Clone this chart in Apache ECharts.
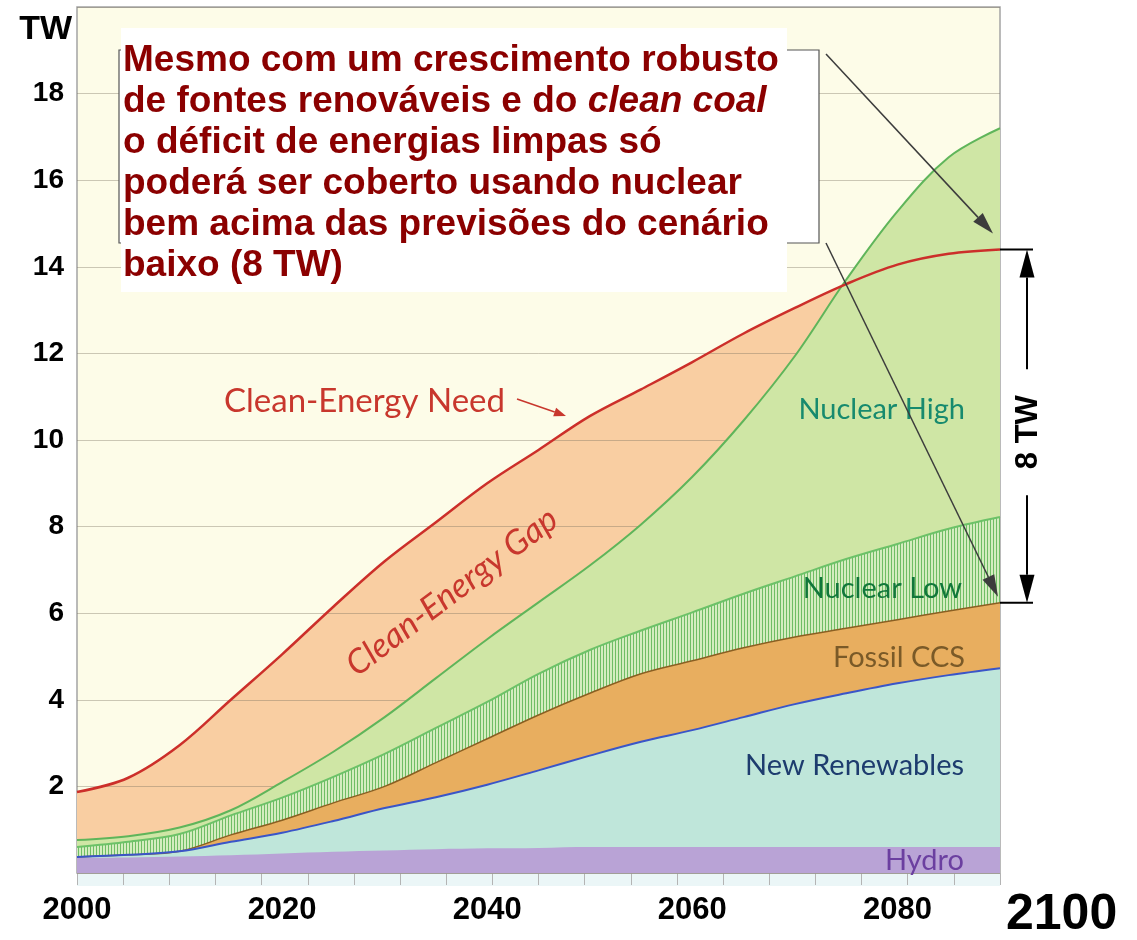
<!DOCTYPE html>
<html>
<head>
<meta charset="utf-8">
<script src="https://cdn.jsdelivr.net/npm/echarts@6/dist/echarts.min.js"></script>
<style>
html, body { margin: 0; padding: 0; background: #fff; }
#container { width: 1137px; height: 940px; }
</style>
</head>
<body>
<div id="container"></div>
<script>
var dom = document.getElementById("container");
var myChart = echarts.init(dom);

// years as labelled on the slide
var years = [2000, 2005, 2010, 2015, 2020, 2025, 2030, 2035, 2040, 2045, 2050, 2055, 2060, 2065, 2070, 2075, 2080, 2085, 2090];
// TW supplied by each source (bottom to top)
var hydro = [0.35, 0.36, 0.38, 0.41, 0.45, 0.49, 0.52, 0.55, 0.57, 0.58, 0.6, 0.6, 0.6, 0.6, 0.6, 0.6, 0.6, 0.6, 0.6];
var newRenewables = [0.02, 0.06, 0.12, 0.31, 0.48, 0.71, 0.98, 1.2, 1.47, 1.79, 2.11, 2.43, 2.7, 3.0, 3.3, 3.55, 3.78, 3.97, 4.13];
var fossilCCS = [0, 0, 0, 0.16, 0.29, 0.42, 0.5, 0.8, 1.06, 1.28, 1.44, 1.57, 1.6, 1.6, 1.55, 1.5, 1.47, 1.48, 1.51];
var nuclearLow = [0.23, 0.3, 0.4, 0.45, 0.52, 0.6, 0.75, 0.8, 0.85, 0.95, 1.0, 1.0, 1.12, 1.25, 1.4, 1.6, 1.75, 1.9, 1.98];
var nuclearHigh = [0.16, 0.13, 0.15, 0.12, 0.36, 0.58, 0.85, 1.15, 1.45, 1.65, 1.95, 2.45, 3.13, 4.0, 5.09, 6.45, 7.68, 8.58, 8.98];
// total clean energy needed
var cleanEnergyNeed = [1.87, 2.2, 2.95, 4.0, 5.05, 6.15, 7.2, 8.1, 9.0, 9.77, 10.55, 11.17, 11.8, 12.46, 13.05, 13.6, 14.05, 14.3, 14.4];

var yearLabels = [2000, 2020, 2040, 2060, 2080];
var tickYears = [2000, 2004.5, 2009, 2013.5, 2018, 2022.5, 2027, 2031.5, 2036, 2040.5, 2045, 2049.5, 2054, 2058.5, 2063, 2067.5, 2072, 2076.5, 2081, 2085.5, 2090];

var boxLines = [
    'Mesmo com um crescimento robusto',
    'de fontes renováveis e do {i|clean coal}',
    'o déficit de energias limpas só',
    'poderá ser coberto usando nuclear',
    'bem acima das previsões do cenário',
    'baixo (8 TW)'
];

// running totals, bottom layer first (value x axes can't be stacked on y by ECharts)
var layers = [hydro, newRenewables, fossilCCS, nuclearLow, nuclearHigh];
var totals = [];
var run = years.map(function () { return 0; });
layers.forEach(function (arr) {
    run = run.map(function (v, i) { return +(v + arr[i]).toFixed(3); });
    totals.push(run);
});

function pts(arr) {
    return years.map(function (y, i) { return [y, arr[i]]; });
}

// vertical hatching for the Nuclear Low band
var stripe = document.createElement('canvas');
stripe.width = 3;
stripe.height = 4;
var sc = stripe.getContext('2d');
sc.fillStyle = '#d4edbf';
sc.fillRect(0, 0, 3, 4);
sc.fillStyle = '#6fbd64';
sc.fillRect(0, 0, 1, 4);

function layer(name, arr, fill, lineColor, lineWidth) {
    return {
        name: name,
        type: 'line',
        data: pts(arr),
        smooth: 0.35,
        symbol: 'none',
        lineStyle: { color: lineColor, width: lineWidth },
        areaStyle: { color: fill, opacity: 1 }
    };
}

var axisFont = 'Liberation Sans';

option = {
    animation: false,
    grid: {
        left: 77, right: 137, top: 7, bottom: 67,
        show: true,
        backgroundColor: '#fdfce8',
        borderColor: '#a4a4a4',
        borderWidth: 1.5
    },
    xAxis: {
        type: 'value',
        min: 2000,
        max: 2090,
        interval: 20,
        z: 1,
        axisLine: { show: false },
        axisTick: { show: true, customValues: tickYears, length: 12, lineStyle: { color: '#b4b4b4' } },
        axisLabel: {
            customValues: yearLabels,
            formatter: function (v) { return String(v); },
            fontSize: 31, fontWeight: 'bold', color: '#000', fontFamily: axisFont, margin: 22
        },
        splitLine: { show: false },
        name: '2100',
        nameLocation: 'end',
        nameGap: 6,
        nameTextStyle: {
            fontSize: 50, fontWeight: 'bold', color: '#000', fontFamily: axisFont,
            verticalAlign: 'top', padding: [17, 0, 0, 0]
        }
    },
    yAxis: {
        type: 'value',
        min: 0,
        max: 20,
        interval: 2,
        z: 3,
        axisLine: { show: false },
        axisTick: { show: false },
        axisLabel: {
            showMinLabel: false, showMaxLabel: false,
            fontSize: 28, fontWeight: 'bold', color: '#000', fontFamily: axisFont, margin: 13
        },
        splitLine: { lineStyle: { color: 'rgba(120,112,95,0.38)', width: 1 } },
        name: 'TW',
        nameLocation: 'end',
        nameGap: -23,
        nameTextStyle: {
            fontSize: 34, fontWeight: 'bold', color: '#000', fontFamily: axisFont,
            align: 'right', verticalAlign: 'middle', padding: [0, 5, 0, 0]
        }
    },
    series: [
        {
            name: 'Clean-Energy Gap',
            type: 'line',
            data: pts(cleanEnergyNeed),
            smooth: 0.35,
            symbol: 'none',
            z: 1,
            lineStyle: { width: 0 },
            areaStyle: { color: '#f9cea2', opacity: 1 }
        },
        // top layer first, each lower total painted over it
        layer('Nuclear High', totals[4], '#cfe6a5', '#5fb55a', 2),
        layer('Nuclear Low', totals[3], { image: stripe, repeat: 'repeat' }, '#6cc268', 2),
        layer('Fossil CCS', totals[2], '#e8ae5f', '#8a5f22', 1.5),
        layer('New Renewables', totals[1], '#bfe6da', '#3a55c8', 2),
        layer('Hydro', totals[0], '#b9a3d6', '#b9a3d6', 0),
        {
            name: 'Clean-Energy Need',
            type: 'line',
            data: pts(cleanEnergyNeed),
            smooth: 0.35,
            symbol: 'none',
            z: 4,
            lineStyle: { color: '#cc2f2a', width: 2.5 }
        }
    ]
};

myChart.setOption(option, true);

function arrow(x1, y1, x2, y2, color, width, headLen, headW, z) {
    var dx = x2 - x1, dy = y2 - y1;
    var len = Math.sqrt(dx * dx + dy * dy);
    var ux = dx / len, uy = dy / len;
    var bx = x2 - ux * headLen, by = y2 - uy * headLen;
    return [
        { type: 'line', z: z, shape: { x1: x1, y1: y1, x2: bx, y2: by }, style: { stroke: color, lineWidth: width } },
        { type: 'polygon', z: z, shape: { points: [[x2, y2], [bx - uy * headW / 2, by + ux * headW / 2], [bx + uy * headW / 2, by - ux * headW / 2]] }, style: { fill: color } }
    ];
}

function label(text, right, cy, color, size) {
    return {
        type: 'text', z: 6, x: right, y: cy,
        style: { text: text, fill: color, fontSize: size, fontFamily: 'Lato', align: 'right', verticalAlign: 'middle' }
    };
}

var last = years.length - 1;
var needEnd = myChart.convertToPixel({ gridIndex: 0 }, [years[last], cleanEnergyNeed[last]]);
var lowEnd = myChart.convertToPixel({ gridIndex: 0 }, [years[last], totals[2][last]]);
var mid = (needEnd[1] + lowEnd[1]) / 2 + 6;

var graphics = [
    { type: 'rect', z: 0, shape: { x: 77, y: 874, width: 923, height: 12 }, style: { fill: '#ebf6f7' } },
    // bracket + text box
    { type: 'rect', z: 10, shape: { x: 119, y: 50, width: 700, height: 193 }, style: { fill: '#fff', stroke: '#555', lineWidth: 1.2 } },
    { type: 'rect', z: 11, shape: { x: 121, y: 28, width: 666, height: 264 }, style: { fill: '#fff' } },
    {
        type: 'text', z: 12, x: 123, y: 40,
        style: {
            text: boxLines.join('\n'),
            fill: '#8b0000',
            fontSize: 37, fontWeight: 'bold', fontFamily: axisFont,
            lineHeight: 41,
            rich: {
                i: { fontSize: 37, fontWeight: 'bold', fontStyle: 'italic', fontFamily: axisFont, fill: '#8b0000', lineHeight: 41 }
            }
        }
    },
    // chart annotations
    label('Clean-Energy Need', 505, 401, '#c8372d', 33),
    label('Nuclear High', 965, 410, '#178a6e', 29),
    label('Nuclear Low', 962, 589, '#11773a', 29),
    label('Fossil CCS', 965, 658, '#7a5a28', 29),
    label('New Renewables', 964, 766, '#1d3c6e', 29),
    label('Hydro', 964, 861, '#6b3fa0', 29),
    {
        type: 'text', z: 6, x: 452, y: 592, rotation: 37 * Math.PI / 180,
        style: { text: 'Clean-Energy Gap', fill: '#c8372d', fontSize: 34, fontStyle: 'italic', fontFamily: 'Lato', align: 'center', verticalAlign: 'middle' }
    },
    // 8 TW dimension
    { type: 'line', z: 12, shape: { x1: needEnd[0], y1: needEnd[1], x2: needEnd[0] + 33, y2: needEnd[1] }, style: { stroke: '#000', lineWidth: 2 } },
    { type: 'line', z: 12, shape: { x1: lowEnd[0], y1: lowEnd[1], x2: lowEnd[0] + 33, y2: lowEnd[1] }, style: { stroke: '#000', lineWidth: 2 } },
    {
        type: 'text', z: 12, x: 1028, y: mid, rotation: Math.PI / 2,
        style: { text: '8 TW', fill: '#000', fontSize: 31, fontWeight: 'bold', fontFamily: axisFont, align: 'center', verticalAlign: 'middle' }
    }
];

graphics = graphics
    .concat(arrow(1027, mid - 63, 1027, needEnd[1], '#000', 2, 28, 15, 12))
    .concat(arrow(1027, mid + 63, 1027, lowEnd[1], '#000', 2, 28, 15, 12))
    .concat(arrow(826, 54, needEnd[0] - 7, needEnd[1] - 16, '#3c3c3c', 1.5, 22, 13, 12))
    .concat(arrow(826, 243, lowEnd[0] - 2, lowEnd[1] - 6, '#3c3c3c', 1.5, 22, 13, 12))
    .concat(arrow(517, 399, 566, 416, '#c8372d', 1.5, 12, 9, 6));

myChart.setOption({ graphic: graphics });
</script>
</body>
</html>
